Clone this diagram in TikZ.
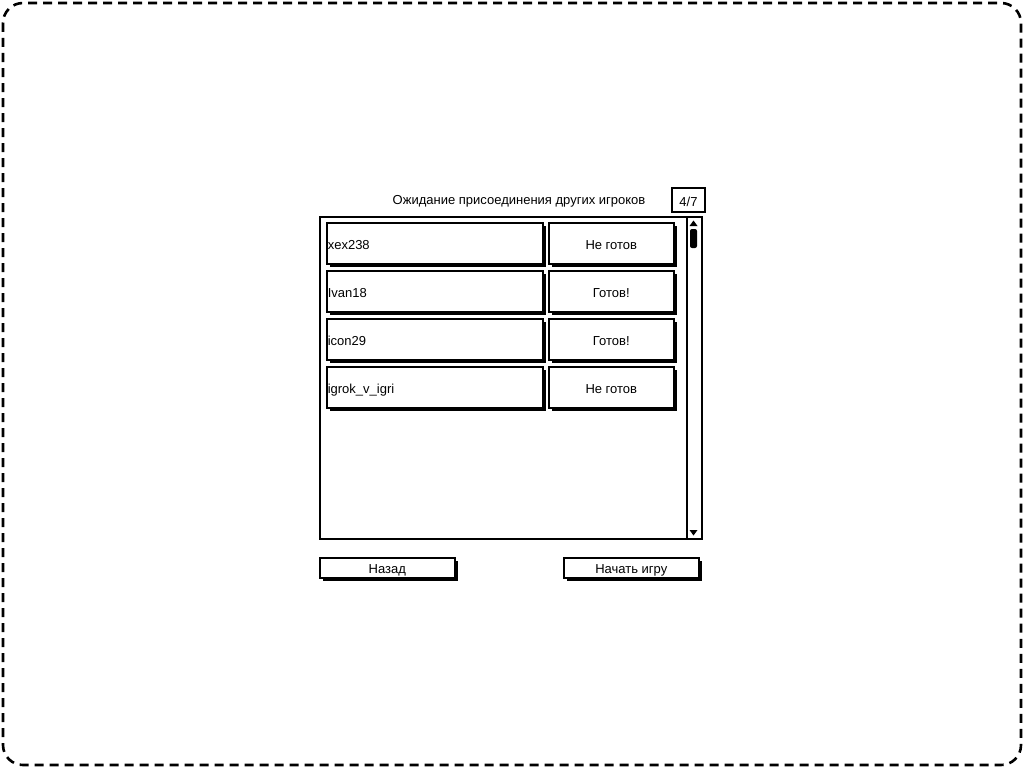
\documentclass[tikz,border=0pt]{standalone}
\usepackage{fontspec}
\setmainfont{Liberation Sans}
\usetikzlibrary{shadows,positioning}

\begin{document}
\begin{tikzpicture}[x=1pt,y=-1pt,
		box/.style={draw,line width=1.6pt,fill=white,inner sep=0pt,text height=12pt,text depth=0pt,font=\fontsize{13}{15}\selectfont},
		shadowbox/.style={box,drop shadow={fill=black,opacity=1,shadow xshift=3pt,shadow yshift=-3pt}},
		namecell/.style={shadowbox,minimum width=216pt,minimum height=41pt,text width=214pt,align=left},
		statecell/.style={shadowbox,minimum width=125pt,minimum height=41pt},
		button/.style={shadowbox,minimum width=135pt,minimum height=20pt}]
	\useasboundingbox (0,0) rectangle (1024,768);
	\draw[line width=2.6pt,rounded corners=20pt,dash pattern=on 9pt off 6pt] (3,3) rectangle (1021,765);% outer frame

	\node[font=\fontsize{13}{15}\selectfont,text height=12pt,text depth=0pt] (title) at (519,198) {Ожидание присоединения других игроков};
	\node[box,line width=2pt,minimum width=33pt,minimum height=24pt,anchor=north west] (count) at (671,187) {4/7};

	\node[draw,line width=2pt,minimum width=367pt,minimum height=322pt,anchor=north west] (list) at (319,216) {};
	\node[draw,line width=1.6pt,minimum width=15pt,minimum height=322pt,anchor=north west] (scroll) at (686,216) {};
	\fill (689.5,226) -- (697.5,226) -- (693.5,220.5) -- cycle;% up arrow
	\fill (689.5,530) -- (697.5,530) -- (693.5,535.5) -- cycle;% down arrow
	\fill[rounded corners=2pt] (690,229) rectangle (697,248);% thumb

	\foreach \player/\state [count=\i] in {xex238/Не готов, Ivan18/Готов!, icon29/Готов!, igrok\_v\_igri/Не готов}{
		\node[namecell,anchor=north west] (name\i) at (326,{222+48*(\i-1)}) {\player};
		\node[statecell,anchor=north west] (state\i) at (548,{222+48*(\i-1)}) {\state};
	}

	\node[button,anchor=north west] (back) at (319,557) {Назад};
	\node[button,anchor=north west] (start) at (563,557) {Начать игру};
\end{tikzpicture}
\end{document}
